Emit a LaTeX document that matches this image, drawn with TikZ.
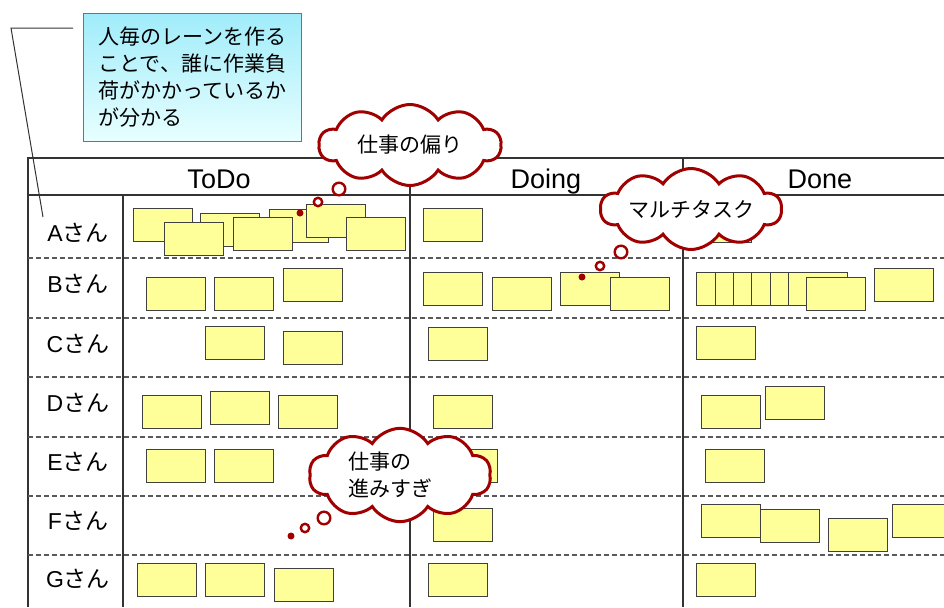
\documentclass[tikz,border=0pt]{standalone}
\usepackage{fontspec}
\setmainfont{Liberation Sans}
\newfontfamily\jp{Noto Sans CJK JP}
\usetikzlibrary{shapes.symbols}

\definecolor{notefill}{RGB}{255,255,153}
\definecolor{thinkred}{RGB}{160,0,0}
\definecolor{tiptop}{RGB}{160,236,250}
\definecolor{tipbottom}{RGB}{232,255,255}

\tikzset{
    sticky/.style={draw=black!75, fill=notefill, line width=0.6pt,
        minimum width=29.5pt, minimum height=16.25pt, inner sep=0pt, anchor=north west},
    rule/.style={draw=black!80, line width=0.75pt},
    lane/.style={draw=black!65, line width=0.75pt, dash pattern=on 2.5pt off 1.5pt},
    thought/.style={cloud, cloud puffs=10, cloud puff arc=115, cloud ignores aspect,
        draw=thinkred, line width=1.5pt, fill=white, inner sep=1pt,
        font=\jp\fontsize{10.5}{13.5}\selectfont},
    bubble/.style={circle, draw=thinkred, line width=1.2pt, fill=white, inner sep=0pt},
    who/.style={anchor=base, font=\fontsize{11.5}{14}\selectfont},
    stage/.style={anchor=base, font=\fontsize{13.5}{16}\selectfont}
}

\begin{document}
\begin{tikzpicture}[x=0.5pt, y=-0.5pt]
    \useasboundingbox (0,0) rectangle (944,607);

    % Table
    \draw[rule] (28,607) -- (28,158) -- (944,158);
    \draw[rule] (28,195) -- (944,195);
    \draw[rule] (123,195) -- (123,607);
    \draw[rule] (410,158) -- (410,607);
    \draw[rule] (683,158) -- (683,607);
    \foreach \y in {258,318,377,437,496,555}
        \draw[lane] (28,\y) -- (944,\y);

    \node[stage] (todo) at (219,188) {ToDo};
    \node[stage] (doing) at (546,188) {Doing};
    \node[stage] (done) at (820,188) {Done};

    \foreach \who/\y in {A/241,B/292,C/352,D/411,E/470,F/529,G/587}
        \node[who] (name\who) at (78,\y) {\who{\jp さん}};

    % Notes
    \foreach \x/\y [count=\i] in {133/208,200/213,269/209,164/222,233/217,306/204,346/217,
            146/277,214/277,283/268, 205/326,283/331, 142/395,210/391,278/395,
            146/449,214/449, 137/563,205/563,274/568}
        \node[sticky] (todo\i) at (\x,\y) {};
    \foreach \x/\y [count=\i] in {423/208, 423/272,492/277,560/272,610/277,
            428/327, 433/395, 438/449, 433/508, 428/563}
        \node[sticky] (doing\i) at (\x,\y) {};
    \foreach \x/\y [count=\i] in {692/209,
            696/272,715/272,733/272,751/272,770/272,788/272,806/277,874/268,
            696/326, 701/395,765/386, 705/449, 701/504,760/509,828/518,892/504, 696/563}
        \node[sticky] (done\i) at (\x,\y) {};

    % Callout
    \node[draw=black!55, line width=0.5pt, top color=tiptop, bottom color=tipbottom,
        minimum width=109pt, minimum height=64pt, anchor=north west, align=left,
        font=\jp\fontsize{10.5}{13.5}\selectfont] (hint) at (83,13)
        {人毎のレーンを作る\\ことで、誰に作業負\\荷がかかっているか\\が分かる};
    \coordinate (lead) at (73,28);
    \coordinate (bend) at (11,28);
    \coordinate (tip) at (43,217);
    \draw[black!80, line width=0.5pt] (lead) -- (bend) -- (tip);

    % Thoughts
    \node[thought, minimum width=91pt, minimum height=40.5pt] (bias) at (410,145) {仕事の偏り};
    \node[bubble, minimum size=6.3pt] (bias1) at (339,189) {};
    \node[bubble, minimum size=4.2pt] (bias2) at (318,202) {};
    \node[bubble, fill=thinkred, minimum size=2.2pt] (bias3) at (300,213) {};

    \node[thought, minimum width=90.5pt, minimum height=40.5pt] (multi) at (691,209) {マルチタスク};
    \node[bubble, minimum size=6.3pt] (multi1) at (621,252) {};
    \node[bubble, minimum size=4.2pt] (multi2) at (600,266) {};
    \node[bubble, fill=thinkred, minimum size=2.2pt] (multi3) at (582,277) {};

    \node[thought, align=left, minimum width=91pt, minimum height=42.5pt] (rush) at (400,475)
        {仕事の\\進みすぎ\hspace*{10pt}};
    \node[bubble, minimum size=6.3pt] (rush1) at (324,518) {};
    \node[bubble, minimum size=4.2pt] (rush2) at (305,528) {};
    \node[bubble, fill=thinkred, minimum size=2.2pt] (rush3) at (291,536) {};
\end{tikzpicture}
\end{document}
